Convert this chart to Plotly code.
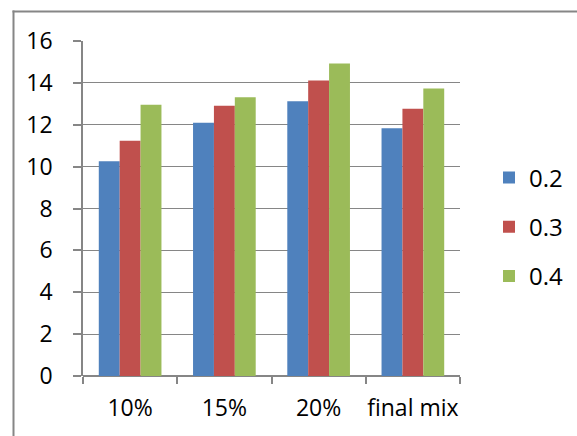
import plotly.graph_objects as go

# Categories and series
categories = ["10%", "15%", "20%", "final mix"]
series_names = ["0.2", "0.3", "0.4"]
values_02 = [10.26, 12.09, 13.12, 11.83]
values_03 = [11.24, 12.91, 14.11, 12.77]
values_04 = [12.96, 13.31, 14.93, 13.73]
y_ticks = [0, 2, 4, 6, 8, 10, 12, 14, 16]

colors = ["#4F81BD", "#C0504D", "#9BBB59"]
grey = "#868686"
font_family = "Open Sans, Liberation Sans, Arial, sans-serif"

fig = go.Figure()
for name, vals, col in zip(series_names, [values_02, values_03, values_04], colors):
    fig.add_trace(go.Bar(
        x=categories, y=vals, name=name, legendgroup=name,
        marker=dict(color=col, line=dict(width=0)),
    ))

W, H = 577, 436
ml, mr, mt, mb = 83, 117, 41, 60
pw, ph = W - ml - mr, H - mt - mb


def px_x(p):
    return (p - ml) / pw


def px_y(p):
    return 1 - (p - mt) / ph


# chart-area frame: thin filled strips along the top and left edges
frame = dict(type="rect", xref="paper", yref="paper", fillcolor=grey,
             line=dict(width=0), layer="above")

fig.update_layout(
    width=W, height=H,
    margin=dict(l=ml, r=mr, t=mt, b=mb, pad=0, autoexpand=False),
    paper_bgcolor="white", plot_bgcolor="white",
    barmode="group", bargap=0.335, bargroupgap=0,
    font=dict(family=font_family, size=23, color="black"),
    showlegend=True,
    legend=dict(
        x=px_x(489), xanchor="left",
        y=px_y(227), yanchor="middle",
        font=dict(size=24), tracegroupgap=15,
        bgcolor="rgba(0,0,0,0)", itemwidth=30,
    ),
    shapes=[
        dict(frame, x0=px_x(12.5), x1=px_x(W + 2), y0=px_y(12.5), y1=px_y(10.5)),
        dict(frame, x0=px_x(12.5), x1=px_x(14.5), y0=px_y(10.5), y1=px_y(H + 2)),
    ],
)

fig.update_xaxes(
    showgrid=False, showline=False,
    ticks="outside", tickson="boundaries", ticklen=7, tickwidth=1.5, tickcolor=grey,
    tickfont=dict(size=23), tickangle=0, ticklabelstandoff=16,
)
fig.update_yaxes(
    range=[0, 16], tickvals=y_ticks,
    showgrid=True, gridcolor=grey, gridwidth=1.4,
    showline=True, linecolor=grey, linewidth=1.5,
    zeroline=True, zerolinecolor=grey, zerolinewidth=1.5,
    ticks="outside", ticklen=8, tickwidth=1.5, tickcolor=grey,
    tickfont=dict(size=23), ticklabelstandoff=16,
)

fig.write_html("out.html", config=dict(displayModeBar=False))
